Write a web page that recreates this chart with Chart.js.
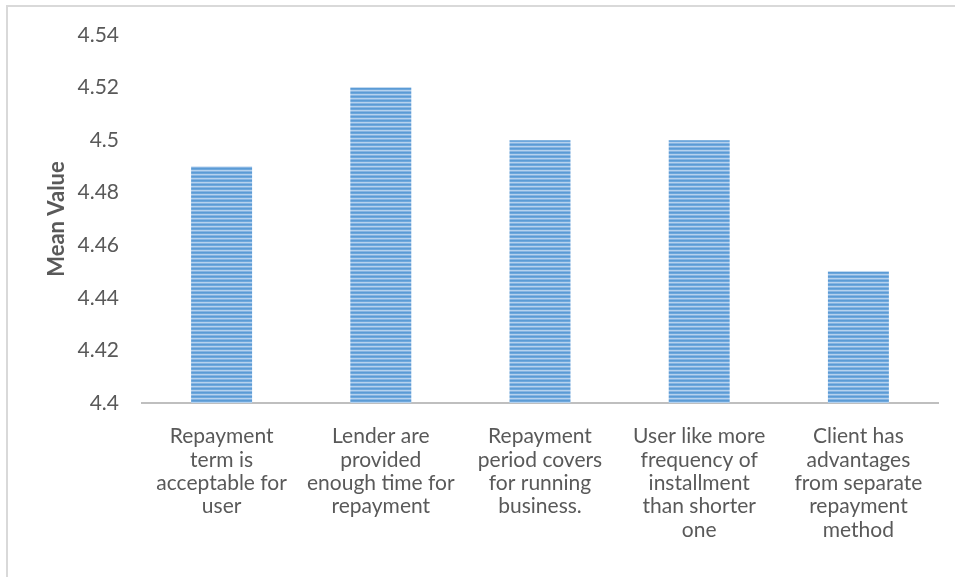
<!DOCTYPE html>
<html>
<head>
<meta charset="utf-8">
<script src="https://cdn.jsdelivr.net/npm/chart.js@4/dist/chart.umd.min.js"></script>
<style>
  html, body { margin: 0; padding: 0; background: #ffffff; overflow: hidden; }
  #frame { position: absolute; left: 6px; top: 5px; width: 1000px; height: 620px;
           border-left: 2px solid #d9d9d9; border-top: 2px solid #d9d9d9; }
  #wrap { position: absolute; left: 0; top: 0; width: 955px; height: 577px; }
</style>
</head>
<body>
<div id="frame"></div>
<div id="wrap"><canvas id="chart" width="955" height="577"></canvas></div>
<script>
// Survey items on repayment terms (multi-line category labels)
const categories = [
  ["Repayment", "term is", "acceptable for", "user"],
  ["Lender are", "provided", "enough time for", "repayment"],
  ["Repayment", "period covers", "for running", "business."],
  ["User like more", "frequency of", "installment", "than shorter", "one"],
  ["Client has", "advantages", "from separate", "repayment", "method"]
];
// Mean score per item
const meanValues = [4.49, 4.52, 4.50, 4.50, 4.45];
// Value axis range
const yMin = 4.4;
const yMax = 4.54;
const yStep = 0.02;

// Horizontal-striped fill for the bars
function stripedFill() {
  const c = document.createElement('canvas');
  c.width = 4; c.height = 4;
  const g = c.getContext('2d');
  const rows = ['#5b9bd5', '#6ea7dc', '#b6d2ee', '#86b4e2'];
  rows.forEach((col, i) => { g.fillStyle = col; g.fillRect(0, i, 4, 1); });
  return g.createPattern(c, 'repeat');
}

const ctx = document.getElementById('chart').getContext('2d');
const textColor = '#595959';
const font = "Lato, 'Open Sans', 'Liberation Sans', sans-serif";

new Chart(ctx, {
  type: 'bar',
  data: {
    labels: categories,
    datasets: [{
      data: meanValues,
      backgroundColor: stripedFill(),
      borderWidth: 0,
      categoryPercentage: 1.0,
      barPercentage: 0.383
    }]
  },
  options: {
    responsive: false,
    animation: false,
    layout: { padding: { top: 35, right: 17, bottom: 0, left: 0 } },
    plugins: { legend: { display: false }, tooltip: { enabled: false } },
    scales: {
      x: {
        grid: { display: false },
        border: { display: true, color: '#bfbfbf', width: 2 },
        ticks: {
          color: textColor,
          font: { family: font, size: 21, lineHeight: 1.11 },
          maxRotation: 0,
          minRotation: 0,
          autoSkip: false,
          padding: 14
        },
        afterFit: (s) => { s.height = 174; }
      },
      y: {
        min: yMin,
        max: yMax,
        grid: { display: false },
        border: { display: false },
        ticks: {
          stepSize: yStep,
          color: textColor,
          font: { family: font, size: 21 },
          padding: 15,
          callback: (v) => String(parseFloat(Number(v).toFixed(2)))
        },
        title: {
          display: true,
          text: 'Mean Value',
          color: textColor,
          font: { family: font, size: 22, weight: 'bold', lineHeight: 1.2 },
          padding: { top: 44, bottom: 0 }
        },
        afterFit: (s) => { s.width = 142; }
      }
    }
  }
});
</script>
</body>
</html>
